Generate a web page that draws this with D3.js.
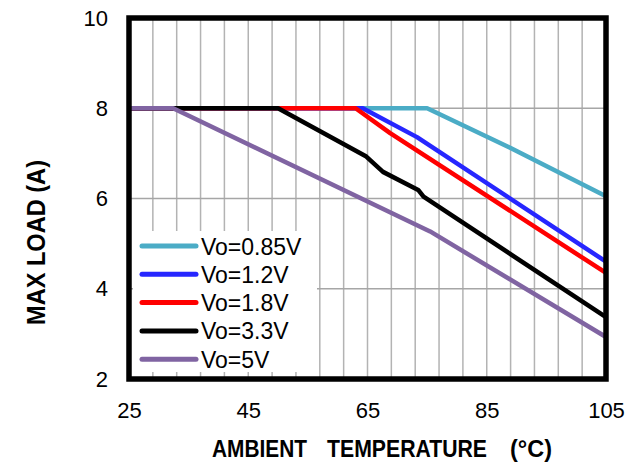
<!DOCTYPE html>
<html><head><meta charset="utf-8">
<script src="https://cdn.jsdelivr.net/npm/d3@7"></script>
<style>
html,body{margin:0;padding:0;background:#fff;}
text{font-family:"Liberation Sans",Arial,sans-serif;fill:#000;}
</style></head>
<body><svg id="c" width="637" height="462"></svg>
<script>
const seriesNames = ["Vo=0.85V","Vo=1.2V","Vo=1.8V","Vo=3.3V","Vo=5V"];
const seriesColors = ["#4bacc6","#2626ff","#ff0000","#000000","#8064a2"];
const tempsCyan   = [25, 75, 89, 105];
const loadCyan    = [8, 8, 7.12, 6.05];
const tempsBlue   = [25, 64.2, 73.3, 105];
const loadBlue    = [8, 8, 7.36, 4.6];
const tempsRed    = [25, 63, 68.8, 105];
const loadRed     = [8, 8, 7.45, 4.35];
const tempsBlack  = [25, 50, 64.8, 67.6, 73.5, 74.4, 105];
const loadBlack   = [8, 8, 6.93, 6.59, 6.19, 6.04, 3.37];
const tempsPurple = [25, 32.4, 75.5, 105];
const loadPurple  = [8, 8, 5.27, 2.93];
const xTicks = [25, 45, 65, 85, 105];
const yTicks = [2, 4, 6, 8, 10];
const xGrid = d3.range(29, 105, 4);
const yGrid = [4, 6, 8];
const xTitleWords = ["AMBIENT", "TEMPERATURE", "(°C)"];
const yTitle = "MAX LOAD (A)";

const temps = [tempsCyan, tempsBlue, tempsRed, tempsBlack, tempsPurple];
const loads = [loadCyan, loadBlue, loadRed, loadBlack, loadPurple];

const svg = d3.select("#c");
const L = 129, R = 606, T = 18, B = 379;
const x = d3.scaleLinear().domain([25, 105]).range([L, R]);
const y = d3.scaleLinear().domain([2, 10]).range([B, T]);

// grid
svg.append("g").selectAll("line").data(xGrid).join("line")
  .attr("x1", d => x(d)).attr("x2", d => x(d)).attr("y1", T).attr("y2", B)
  .attr("stroke", "#b3b3b3").attr("stroke-width", 1.5);
svg.append("g").selectAll("line").data(yGrid).join("line")
  .attr("x1", L).attr("x2", R).attr("y1", d => y(d)).attr("y2", d => y(d))
  .attr("stroke", "#a6a6a6").attr("stroke-width", 1.5);

// series
const line = d3.line().x(d => x(d[0])).y(d => y(d[1]));
seriesNames.forEach((n, i) => {
  const pts = temps[i].map((t, j) => [t, loads[i][j]]);
  svg.append("path").attr("d", line(pts)).attr("fill", "none")
    .attr("stroke", seriesColors[i]).attr("stroke-width", 4.5)
    .attr("stroke-linejoin", "round");
});

// legend
svg.append("rect").attr("x", 133).attr("y", 231).attr("width", 184).attr("height", 141).attr("fill", "#fff");
const lg = svg.append("g");
seriesNames.forEach((n, i) => {
  const yy = 246 + i * 28.3;
  lg.append("line").attr("x1", 142).attr("x2", 196).attr("y1", yy).attr("y2", yy)
    .attr("stroke", seriesColors[i]).attr("stroke-width", 5).attr("stroke-linecap", "round");
  lg.append("text").attr("x", 201).attr("y", yy + 8.5).attr("font-size", 23).text(n);
});

// frame
svg.append("rect").attr("x", L).attr("y", T).attr("width", R - L).attr("height", B - T)
  .attr("fill", "none").attr("stroke", "#000").attr("stroke-width", 5.5);

// axes labels
const xa = svg.append("g").attr("transform", `translate(0,${B})`)
  .call(d3.axisBottom(x).tickValues(xTicks).tickSize(0).tickPadding(20));
xa.select(".domain").remove();
xa.selectAll("text").attr("font-size", 22).attr("font-family", null).attr("dy", "0.71em").attr("y", 23);
const ya = svg.append("g").attr("transform", `translate(${L},0)`)
  .call(d3.axisLeft(y).tickValues(yTicks).tickSize(0).tickPadding(20));
ya.select(".domain").remove();
ya.selectAll("text").attr("font-size", 22).attr("font-family", null).attr("x", -21);

const xtPos = [212, 327, 510], xtLen = [95, 160, 42];
xTitleWords.forEach((w, i) => {
  svg.append("text").attr("x", xtPos[i]).attr("y", 456.5)
    .attr("font-size", 23).attr("font-weight", "bold")
    .attr("textLength", xtLen[i]).attr("lengthAdjust", "spacingAndGlyphs")
    .text(w);
});
svg.append("text").attr("transform", "translate(45,242.5) rotate(-90)").attr("text-anchor", "middle")
  .attr("font-size", 26).attr("font-weight", "bold")
  .attr("textLength", 165).attr("lengthAdjust", "spacingAndGlyphs")
  .text(yTitle);
</script></body></html>
